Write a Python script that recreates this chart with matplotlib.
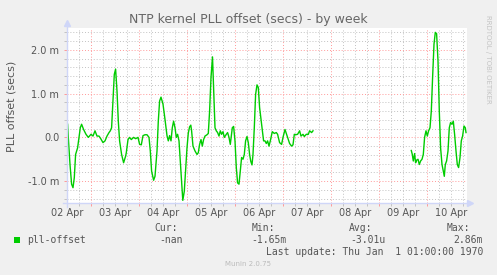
import matplotlib
matplotlib.use("Agg")
import matplotlib.pyplot as plt
import matplotlib.transforms as mtransforms
import numpy as np

# ---- data (hours since 02 Apr 00:00, offset in milliseconds) ----
seg1_hours = [12.3, 12.65, 13.5, 14.3, 15.0, 15.65, 16.3, 17.3, 18.0, 18.65, 19.3, 20.3, 21.5, 22.65,
              24.0, 25.0, 26.0, 27.0, 28.0, 29.0, 30.0, 31.0, 32.0, 33.0, 33.65, 34.3, 35.0, 35.65,
              36.3, 37.0, 37.65, 38.3, 39.3, 40.3, 41.3, 41.65, 42.5, 43.3, 44.15, 45.3, 46.3, 47.5,
              48.3, 49.15, 50.0, 51.0, 52.0, 53.0, 53.65, 54.3, 55.3, 56.0, 57.0, 57.65, 58.3, 59.0,
              60.0, 61.0, 62.0, 62.65, 63.3, 64.0, 64.65, 65.3, 66.0, 66.65, 67.3, 68.0, 68.65, 69.3,
              69.9, 70.65, 71.3, 72.0, 72.65, 73.3, 73.9, 74.3, 75.0, 76.0, 77.0, 77.65, 78.3, 79.0,
              79.65, 80.3, 81.0, 82.0, 82.65, 83.3, 84.0, 84.75, 85.3, 86.0, 86.65, 87.3, 88.0, 88.65,
              89.3, 90.0, 90.65, 91.65, 92.3, 93.0, 93.65, 94.65, 95.3, 96.0, 96.65, 97.3, 98.0, 98.65,
              99.3, 100.0, 100.65, 101.3, 102.0, 102.65, 103.3, 103.9, 104.5, 105.0, 105.65, 106.3,
              107.0, 107.65, 108.3, 109.3, 110.3, 111.0, 111.65, 112.3, 113.0, 113.65, 114.65, 115.65,
              116.65, 117.3, 118.3, 119.3, 120.0, 121.0, 121.65, 122.3, 123.3, 124.3, 125.0, 125.65,
              126.3, 127.3, 128.3, 129.0, 130.0, 130.65, 131.65, 132.65, 133.3, 134.3, 135.0]
seg1_ms = [0.30, 0.0, -0.62, -1.07, -1.15, -0.92, -0.39, -0.24, -0.01, 0.22, 0.30, 0.18, 0.07, 0.0,
           0.07, 0.03, 0.15, 0.03, 0.03, -0.04, -0.12, -0.08, 0.03, 0.11, 0.15, 0.22, 0.83, 1.44,
           1.56, 1.06, 0.37, -0.08, -0.39, -0.58, -0.43, -0.35, -0.05, 0.0, -0.05, 0.0, -0.03, 0.0,
           -0.16, -0.17, 0.04, 0.06, 0.06, 0.0, -0.31, -0.77, -0.98, -0.89, -0.31, 0.37, 0.83, 0.92,
           0.76, 0.41, 0.04, -0.08, 0.04, -0.08, 0.22, 0.37, 0.22, 0.0, 0.07, -0.08, -0.54, -1.0,
           -1.44, -1.23, -0.77, -0.24, 0.10, 0.24, 0.28, 0.15, -0.2, -0.31, -0.39, -0.35, -0.16, -0.05,
           -0.2, -0.05, 0.03, 0.06, 0.09, 0.6, 1.37, 1.84, 1.14, 0.22, 0.15, 0.11, 0.03, 0.15,
           0.07, 0.13, 0.0, 0.07, 0.11, 0.0, -0.16, 0.22, 0.25, -0.08, -0.69, -1.04, -1.07, -0.77,
           -0.46, -0.5, -0.39, -0.08, 0.02, -0.12, -0.39, -0.55, -0.63, -0.39, 0.22, 0.98,
           1.2, 1.14, 0.68, 0.3, -0.08, -0.08, -0.14, -0.08, -0.2, -0.08, 0.13, 0.09,
           0.11, 0.07, -0.12, -0.16, 0.0, 0.18, 0.09, 0.0, -0.14, -0.2, -0.17, 0.07,
           0.06, 0.07, 0.15, 0.03, 0.07, 0.02, 0.07, 0.07, 0.15, 0.11, 0.15]

seg2_hours = [184.15, 184.65, 185.15, 185.8, 186.3, 186.8, 187.5, 188.15, 188.8, 189.5, 190.15, 190.8,
              191.5, 192.15, 192.8, 193.5, 194.15, 194.8, 195.5, 196.15, 196.8, 197.5, 198.15, 198.8,
              199.5, 200.15, 200.65, 201.15, 201.8, 202.5, 203.15, 203.8, 204.5, 205.15, 205.8, 206.5,
              207.15, 207.8, 208.5, 209.15, 209.8, 210.5, 211.15, 211.5]
seg2_ms = [-0.30, -0.39, -0.54, -0.37, -0.58, -0.52, -0.50, -0.62, -0.54, -0.50, -0.39, 0.0,
           0.15, 0.03, 0.15, 0.22, 0.60, 1.37, 2.13, 2.40, 2.37, 1.75, 0.60, -0.24,
           -0.62, -0.77, -0.89, -0.62, -0.54, -0.31, 0.22, 0.34, 0.30, 0.37, 0.07, -0.31,
           -0.62, -0.69, -0.46, -0.08, 0.03, 0.26, 0.22, 0.11]

day_labels = ["02 Apr", "03 Apr", "04 Apr", "05 Apr", "06 Apr", "07 Apr", "08 Apr", "09 Apr", "10 Apr"]
y_ticks = [-1.0, 0.0, 1.0, 2.0]
y_tick_labels = ["-1.0 m", "0.0", "1.0 m", "2.0 m"]

legend_name = "pll-offset"
stat_names = ["Cur:", "Min:", "Avg:", "Max:"]
stat_values = ["-nan", "-1.65m", "-3.01u", "2.86m"]

# ---- style ----
BACK = "#F0F0F0"
FONT = "#555555"
AXIS = "#CFD6F8"
LINE = "#00CC00"
MGRID = (1.0, 0.6, 0.6)
GRID = (0.76, 0.76, 0.76)

W, H = 497, 275
fig = plt.figure(figsize=(W / 100, H / 100), dpi=100, facecolor=BACK)
ax = fig.add_axes([67 / W, (H - 203) / H, 400 / W, 175 / H])
ax.set_facecolor("white")

ax.set_xlim(12, 212)
ax.set_ylim(-1.5, 2.5)

# grid
xmaj = np.arange(24, 212, 24)
xmin = np.arange(12, 213, 6)
ymaj = np.array(y_ticks)
ymin = np.arange(-1.4, 2.41, 0.2)
dash = (0, (1, 2))
for x in xmin:
    if x % 24 != 0:
        ax.axvline(x, color=GRID, lw=0.7, ls=dash, zorder=1)
for y in ymin:
    if abs(round(y) - y) > 1e-6:
        ax.axhline(y, color=GRID, lw=0.7, ls=dash, zorder=1)
for x in xmaj:
    ax.axvline(x, color=MGRID, lw=0.7, ls=dash, zorder=1.5)
for y in ymaj:
    ax.axhline(y, color=MGRID, lw=0.7, ls=dash, zorder=1.5)

# data
ax.plot(seg1_hours, seg1_ms, color=LINE, lw=1.0, zorder=3)
ax.plot(seg2_hours, seg2_ms, color=LINE, lw=1.0, zorder=3)

# spines / axes arrows
for s in ax.spines.values():
    s.set_visible(False)
ax.plot([0, 0], [-0.02, 1.025], transform=ax.transAxes, color=AXIS, lw=1.0, clip_on=False, zorder=4)
ax.plot([-0.01, 1.0], [0, 0], transform=ax.transAxes, color=AXIS, lw=1.0, clip_on=False, zorder=4)
ax.plot([0], [1.03], transform=ax.transAxes, marker="^", ms=4.5, color=AXIS, mec=AXIS, clip_on=False, zorder=4)
ax.plot([1.007], [0], transform=ax.transAxes, marker=">", ms=4.5, color=AXIS, mec=AXIS, clip_on=False, zorder=4)

# ticks
ax.set_xticks(xmaj)
ax.set_xticks([x for x in xmin if x % 24 != 0], minor=True)
ax.set_xticklabels([])
ax.set_yticks(y_ticks)
ax.set_yticklabels(y_tick_labels)
ax.set_yticks([y for y in ymin if abs(round(y) - y) > 1e-6], minor=True)
ax.tick_params(axis="x", which="major", length=2, width=0.7, color=MGRID, direction="out")
ax.tick_params(axis="x", which="minor", length=2, width=0.7, color=GRID, direction="out")
ax.tick_params(axis="y", which="major", length=2, width=0.7, color=MGRID, direction="out",
               pad=3.6, labelsize=7, labelcolor=FONT)
ax.tick_params(axis="y", which="minor", length=2, width=0.7, color=GRID, direction="out")

# x labels centered at noon of each day
trans = mtransforms.blended_transform_factory(ax.transData, fig.transFigure)
for i, lab in enumerate(day_labels):
    ax.text(12 + 24 * i, 1 - 213.3 / H, lab, transform=trans, ha="center", va="center",
            fontsize=7, color=FONT, clip_on=False)

def fy(py):
    return 1 - py / H

# title, unit label, watermark
fig.text(248.5 / W, fy(19), "NTP kernel PLL offset (secs) - by week", ha="center", va="center",
         fontsize=9, color="#666666")
fig.text(11.7 / W, fy(106.7), "PLL offset (secs)", rotation=90, ha="center", va="center",
         fontsize=8, color=FONT)
fig.text(488 / W, fy(15), "RRDTOOL / TOBI OETIKER", rotation=270, ha="center", va="top",
         fontsize=5, color="#C4C4C4")

# legend
mono = "DejaVu Sans Mono"
fig.patches.append(plt.Rectangle((14 / W, fy(243)), 6 / W, 6 / H, transform=fig.transFigure,
                                 facecolor=LINE, edgecolor="none"))
fig.text(26.7 / W, fy(240), legend_name, family=mono, fontsize=7, color=FONT, ha="left", va="center")
head_x = [154, 252, 349, 447]
val_right = [183, 287, 386, 483]
for hx, name in zip(head_x, stat_names):
    fig.text(hx / W, fy(227.7), name, family=mono, fontsize=7, color=FONT, ha="left", va="center")
for vx, val in zip(val_right, stat_values):
    fig.text(vx / W, fy(240), val, family=mono, fontsize=7, color=FONT, ha="right", va="center")
fig.text(483 / W, fy(251.7), "Last update: Thu Jan  1 01:00:00 1970", family=mono, fontsize=7,
         color=FONT, ha="right", va="center")
fig.text(248 / W, fy(264), "Munin 2.0.75", fontsize=5, color="#BBBBBB", ha="center", va="center")

fig.savefig("out.png", dpi=100, facecolor=BACK)
